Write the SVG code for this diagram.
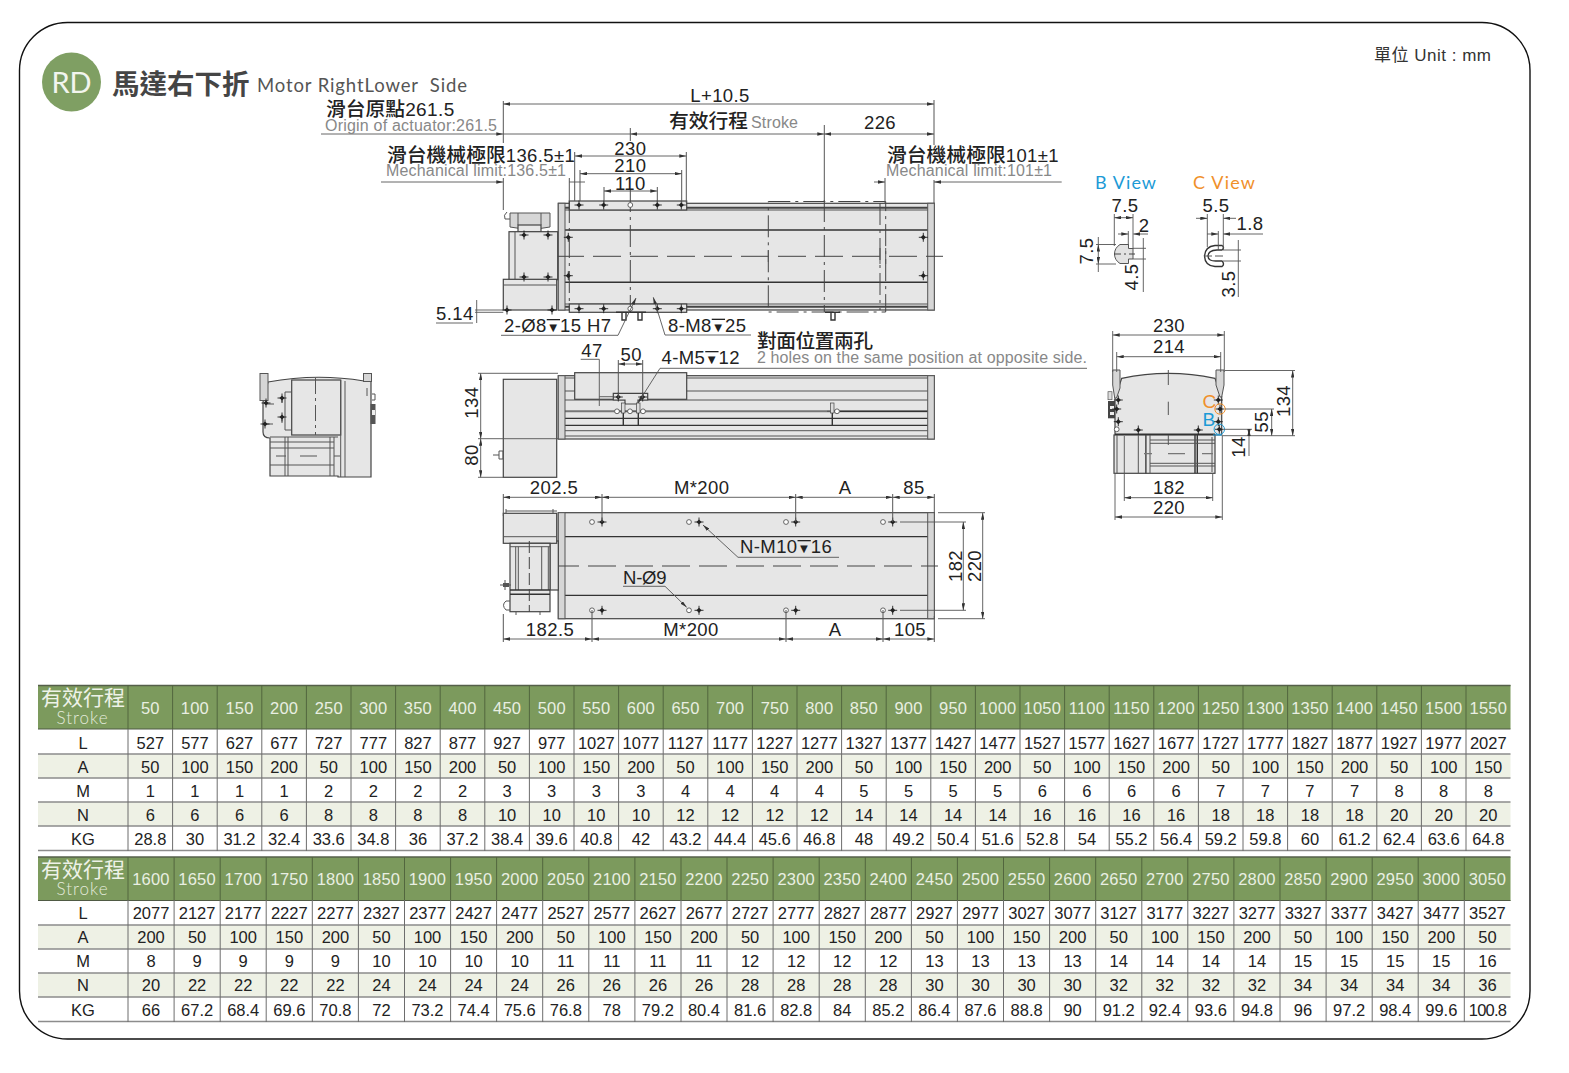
<svg xmlns="http://www.w3.org/2000/svg" width="1569" height="1073" viewBox="0 0 1569 1073">
<style>
text{font-family:"Liberation Sans","DejaVu Sans","Noto Sans CJK TC",sans-serif;fill:#222}
.d{font-size:18.5px;letter-spacing:.4px}
.m{text-anchor:middle}
.g{font-size:16px;fill:#888}
.cj{font-size:19.8px;fill:#222;font-weight:500}
.v{font-size:13px;text-decoration:overline}
.n{fill:none;stroke:#555;stroke-width:1}
.k{fill:none;stroke:#333;stroke-width:1.4}
.b{fill:#e6e6e6;stroke:#444;stroke-width:1.2}
.p{fill:#d6d6d6;stroke:#555;stroke-width:1}
.da{fill:none;stroke:#444;stroke-width:1;stroke-dasharray:22 5 3 5}
.cl{fill:none;stroke:#444;stroke-width:1;stroke-dasharray:28 9}
.dim{fill:none;stroke:#555;stroke-width:.9}
.ar{marker-start:url(#a);marker-end:url(#a)}
.ae{marker-end:url(#a)}
.td{font-size:16.5px;text-anchor:middle;fill:#222}
.hd{font-size:16.5px;text-anchor:middle;fill:#e9efe2;letter-spacing:.2px}
</style>
<defs>
<marker id="a" viewBox="0 0 8 4" refX="8" refY="2" markerWidth="7" markerHeight="3.5" markerUnits="userSpaceOnUse" orient="auto-start-reverse"><path d="M0 0L8 2L0 4z" fill="#333"/></marker>
<g id="h"><path d="M-4.5 0H4.5M0-4.5V4.5" stroke="#222" stroke-width=".9"/><path d="M-2.6 0L0-2.6L2.6 0L0 2.6z" fill="#222"/></g>
<circle id="o" r="2.4" fill="#fff" stroke="#444" stroke-width=".8"/>
</defs>
<rect width="1569" height="1073" fill="#fff"/>
<rect id="frame" x="19.500" y="22.500" width="1510.500" height="1016.500" rx="48" ry="48" fill="none" stroke="#111" stroke-width="1.400"/>

<g id="title">
<circle cx="71.500" cy="82" r="29.500" fill="#7f9f63"/>
<text x="71.500" y="93" class="m" font-size="29" style="font-family:'Lato','Noto Sans',sans-serif;fill:#f2f5ee">RD</text>
<text x="112" y="94" font-size="27.500" font-weight="700" style="fill:#454545">馬達右下折</text>
<text x="257" y="91.500" font-size="18.500" textLength="210" style="fill:#555;white-space:pre;font-family:'Lato','Liberation Sans',sans-serif">Motor RightLower  Side</text>
<text x="1374" y="61" font-size="17" textLength="117" style="fill:#333">單位 Unit : mm</text>
</g>

<g id="side-view-left">
<path class="b" d="M268 382Q316 373 364 381L371 381V477H338V476H270V438Q263 438 263 432V402L268 382z"/>
<rect class="p" x="260" y="373.500" width="8" height="27" fill="#ddd"/>
<rect class="p" x="363.500" y="373.500" width="8" height="8"/>
<rect class="b" x="291.700" y="380" width="49" height="55"/>
<path class="n" d="M291.700 392H285V430H291.700M340.700 380V477M345 381V477M270 437H338M270 442H334M270 448H334M270 465H334M288 437V476M285 437V476M334 437V476M330 437V476"/>
<path class="n" stroke-dasharray="16 4 3 4" d="M315.500 378V435"/>
<path class="n" d="M267 404H274M266 424H273M282 397V403M282 417V423M276 456H286M300 456H317M334 456H340M367 388V396M372 394H375V400H372"/>
<use href="#h" x="266" y="403"/><use href="#h" x="265" y="424"/><use href="#h" x="282" y="398"/><use href="#h" x="282" y="417"/>
<rect x="370.500" y="404" width="5" height="20" fill="#555"/><rect x="372" y="410" width="3" height="5" fill="#eee"/>
</g>

<g id="top-view">
<rect class="b" x="558.300" y="203.300" width="376" height="106.700"/>
<path d="M565 230H928M565 282.300H928" stroke="#333" stroke-width="1.600" fill="none"/>
<path d="M565 207.800H928M565 306.700H928" stroke="#444" stroke-width="2" fill="none"/>
<path class="n" d="M565 210H928M565 304H928"/>
<rect class="p" x="558.300" y="203.300" width="6.700" height="106.700" fill="#e2e2e2"/>
<rect class="p" x="927.700" y="203.300" width="6.600" height="106.700"/>
<rect class="b" x="569.300" y="201" width="117.400" height="9"/>
<rect class="b" x="569.300" y="304" width="117.400" height="8.300"/>
<rect class="da" x="768.300" y="201.500" width="117.400" height="110.500"/>
<path class="da" d="M569.300 201V310M630.300 190V312M880 203V310M824.300 200V312"/>
<path class="cl" d="M556 256.300H922M926 256.300H943"/>
<path class="n" d="M768.300 250V262M880 248V264M885.700 248V264"/>
<use href="#h" x="579" y="205"/><use href="#h" x="603.700" y="205"/><use href="#o" x="630.300" y="205"/><use href="#h" x="657.300" y="205"/><use href="#h" x="681.300" y="205"/>
<use href="#h" x="579" y="308.700"/><use href="#h" x="603.700" y="308.700"/><use href="#o" x="630.300" y="308.700"/><use href="#h" x="657.300" y="308.700"/><use href="#h" x="681.300" y="308.700"/>
<use href="#h" x="568.300" y="237.300"/><use href="#h" x="568.300" y="275.700"/><use href="#h" x="923.300" y="237.300"/><use href="#h" x="923.300" y="275.700"/>
<path class="p" d="M510 213H550V227Q530 231 510 227z" fill="#ddd"/>
<rect class="b" x="518" y="225" width="23" height="7"/>
<path class="n" d="M507 212Q503 215 505 219H510M518 213V225M541 213V225"/>
<rect class="b" x="509" y="231.700" width="48.700" height="48"/>
<path class="n" d="M515 231.700V279.700"/>
<rect class="b" x="503.300" y="279.300" width="53.400" height="30.700"/>
<path class="n" d="M503.300 285H556.700"/>
<use href="#h" x="524" y="235"/><use href="#h" x="548" y="235"/><use href="#h" x="524" y="277"/><use href="#h" x="548" y="277"/><use href="#h" x="507" y="310"/><use href="#h" x="552" y="310"/>
<path class="k" d="M616 312.300H646M622 312.300V320H626V312.300M638 312.300V320H642V312.300M825 312.300H840M831 312.300V320H835V312.300"/>
</g>

<g id="side-view">
<rect class="b" x="558.300" y="375.700" width="376" height="63.300"/>
<path class="n" d="M565 378H928M565 391H928M565 400H928M565 430.700H928M565 436H928"/>
<path d="M565 411.300H928" stroke="#777" stroke-width="2" fill="none"/>
<path d="M840 411.300H928M565 418.300H928M565 425.300H928" stroke="#333" stroke-width="1.200" fill="none"/>
<rect class="p" x="558.300" y="375.700" width="6.700" height="63.300" fill="#e2e2e2"/>
<rect class="p" x="927.700" y="375.700" width="6.600" height="63.300"/>
<rect class="b" x="574.700" y="372.700" width="112" height="26.600"/>
<path class="b" d="M613.300 393.300H647.700V400H638V404H625V400H613.300z"/>
<rect class="b" x="503.300" y="379.300" width="53.400" height="98"/>
<path class="n" d="M493 455H499M499 451H503V459H499z"/>
<path class="k" d="M623.300 403V425M638.300 403V425M832.300 403V425"/>
<path class="n" d="M616 411.300H645M827 411.300H838"/>
<use href="#o" x="617" y="411.300"/><use href="#o" x="630" y="411.300"/><use href="#o" x="643" y="411.300"/><use href="#o" x="837" y="411.300"/>
<rect x="621.500" y="403" width="3.500" height="10" fill="#ddd" stroke="#444" stroke-width=".7"/><rect x="636.500" y="403" width="3.500" height="10" fill="#ddd" stroke="#444" stroke-width=".7"/><rect x="830.500" y="403" width="3.500" height="10" fill="#ddd" stroke="#444" stroke-width=".7"/>
<use href="#h" x="618.300" y="397"/><use href="#h" x="642.700" y="397"/>
</g>

<g id="bottom-view">
<rect class="b" x="558.300" y="512.700" width="376" height="106"/>
<path d="M565 536.700H928M565 595.300H928" stroke="#333" stroke-width="1.300" fill="none"/>
<rect class="p" x="558.300" y="512.700" width="6.700" height="106" fill="#e2e2e2"/>
<rect class="p" x="927.700" y="512.700" width="6.600" height="106"/>
<path class="cl" d="M551 566H938"/>
<use href="#o" x="592" y="522"/><use href="#o" x="689" y="522"/><use href="#o" x="786" y="522"/><use href="#o" x="883" y="522"/>
<use href="#h" x="602" y="522"/><use href="#h" x="699" y="522"/><use href="#h" x="795.700" y="522"/><use href="#h" x="892.700" y="522"/>
<use href="#o" x="592" y="610.300"/><use href="#o" x="689" y="610.300"/><use href="#o" x="786" y="610.300"/><use href="#o" x="883" y="610.300"/>
<use href="#h" x="602" y="610.300"/><use href="#h" x="699" y="610.300"/><use href="#h" x="795.700" y="610.300"/><use href="#h" x="892.700" y="610.300"/>
<rect class="b" x="550" y="541" width="8.300" height="49"/>
<rect class="b" x="503.300" y="513.300" width="53.400" height="30"/>
<path class="n" d="M503.300 536.700H556.700M506 511H557M506 509V513M553 509V513"/>
<rect class="b" x="510" y="543.300" width="40" height="68.400"/>
<path class="n" d="M510 546.700H550M515.700 546.700V590M518.300 546.700V590M541.700 546.700V590M548.300 546.700V590M516 612V615M540 612V615"/>
<path class="k" d="M510 590H550M510 594.300H550"/>
<path class="da" d="M529.300 541V612" style="stroke-dasharray:12 4"/>
<path class="n" d="M500 585H511M505 580V590M510 601H506Q501 605 506 610H510"/>
<rect x="503" y="583" width="6" height="4" fill="#555"/>
</g>

<g id="right-view">
<path class="b" d="M1121.700 378.300Q1168.300 368.500 1215 378.300L1221.700 396.700V435H1115V398.300z"/>
<path class="p" d="M1112.700 370H1120V388L1116.500 398H1114.700L1112.700 385z" fill="#ddd"/>
<path class="p" d="M1216 370H1224V385L1221.700 397H1220L1216 385z" fill="#ddd"/>
<rect class="b" x="1114" y="435" width="32" height="38.300"/>
<rect class="b" x="1146" y="435" width="69" height="38.300"/>
<path class="k" d="M1195 435V473.300M1197.300 435V473.300M1115 434.300H1215"/>
<path class="n" d="M1117 435V473M1138.300 435V473M1150 435V473M1150 440H1215M1150 443.300H1215M1150 463.300H1215M1150 466H1215M1212 437V472"/>
<path class="n" d="M1168.300 370V385M1168.300 401.700V415M1168.300 435V445"/>
<path d="M1144 453.700H1152M1168 453.700H1185M1202 453.700H1213" stroke="#777" stroke-width="1.300" fill="none"/>
<rect x="1108" y="391.700" width="4" height="8" fill="#ddd" stroke="#555" stroke-width=".7"/>
<rect x="1108" y="401" width="7" height="17.300" fill="#444"/><rect x="1110" y="406" width="4" height="3" fill="#eee"/><rect x="1110" y="412" width="4" height="3" fill="#eee"/>
<use href="#h" x="1118.300" y="400"/><use href="#h" x="1116.700" y="409"/><use href="#h" x="1118.300" y="421.700"/><use href="#o" x="1116.700" y="429.300"/><use href="#h" x="1138.300" y="430"/><use href="#h" x="1198.300" y="430"/><use href="#h" x="1218.300" y="400"/><use href="#h" x="1220" y="409"/><use href="#h" x="1218.300" y="421.700"/><use href="#h" x="1219.300" y="429.300"/>
<circle cx="1220" cy="409" r="5.200" fill="none" stroke="#f0902a"/><circle cx="1219.300" cy="429.300" r="5.200" fill="none" stroke="#1c9ad6"/>
<path d="M1213 435H1222" fill="none" stroke="#1c9ad6"/>
<text x="1202.500" y="407.700" font-size="19" style="fill:#f0902a">C</text>
<text x="1202.500" y="425.700" font-size="19" style="fill:#1c9ad6">B</text>
</g>

<g id="b-view">
<text x="1095" y="189.300" font-size="18" textLength="61" style="fill:#1c9ad6;font-family:'Lato','Liberation Sans',sans-serif">B View</text>
<path d="M1120 244.500H1128.500V248.500H1133V259H1128.500V263.500H1120Q1114.500 260 1114.500 254Q1114.500 248 1120 244.500z" fill="#e2e2e2" stroke="#555" stroke-width="1"/>
<path class="cl" style="stroke-dasharray:7 3 2 3" d="M1114 254H1135"/>
</g>
<g id="c-view">
<text x="1193" y="189.300" font-size="18" textLength="62" style="fill:#f0902a;font-family:'Lato','Liberation Sans',sans-serif">C View</text>
<path class="k" fill="#fff" d="M1222 250Q1225 247.500 1222 245.500H1215Q1205 246.500 1204.500 256Q1205 266 1215 266.500H1222Q1225 264 1222 261H1217Q1208 261.500 1208 256Q1208 250.500 1217 250z"/>
<path class="n" stroke-dasharray="8 3" d="M1204 256H1226"/>
</g>

<g id="connectors">
<!-- top dimensions -->
<path class="n" d="M503.300 101V143M503.300 178V210M630.300 128V141M824.300 125V202M934 100V145M934 180V203M569.300 178V201M574.700 152V201M580 170V201M604 187V203M657.300 187V203M681.700 170V203M686.300 152V203M885 178V203"/>
<path class="dim ar" d="M503.300 104H934"/>
<path class="dim ae" d="M321 134H503.300"/>
<path class="dim" d="M503.300 134H630.300"/>
<path class="dim ar" d="M630.300 134H824.300"/>
<path class="dim ar" d="M824.300 134H934"/>
<path class="dim ae" d="M381 182H503.300"/>
<path class="dim" d="M569.300 182H585"/>
<path class="dim ar" d="M575 156H686.300"/>
<path class="dim ar" d="M580 173.700H681.700"/>
<path class="dim ar" d="M604 191H657.300"/>
<path class="dim ae" d="M874 182H885"/>
<path class="dim ae" d="M1061.700 182H934"/>
<!-- leaders -->
<path class="dim" d="M436 323H473M476.700 300V323M475 310H503.300M475 312.300H503.300"/>
<path class="dim ae" d="M501 335.300H618L636 298"/>
<path class="dim ae" d="M751 335H665L653.300 297.300"/>
<path class="dim ae" d="M1087 368.300H660L638 403"/>
<path class="dim" d="M580.700 359.300H599.300V406M599.300 396.700H613"/>
<path class="dim ar" d="M618.300 364H642.700"/>
<path class="n" d="M618.300 360V398M642.700 360V398"/>
<!-- side dimensions -->
<path class="dim" d="M478 373.300H558M478 438.700H558M478 477.300H503.300"/>
<path class="dim ar" d="M480.700 373.300V438.700"/>
<path class="dim ar" d="M480.700 438.700V477.300"/>
<!-- bottom dimensions -->
<path class="n" d="M503.300 494V516M602 494V522M795.700 494V522M892.700 494V522M934.300 494V513M503.300 614V642M592 610V642M786 610V642M883 610V642M934.300 616V642"/>
<path class="dim ar" d="M503.300 497.300H602"/>
<path class="dim ar" d="M602 497.300H795.700"/>
<path class="dim ar" d="M795.700 497.300H892.700"/>
<path class="dim ar" d="M892.700 497.300H934.300"/>
<path class="dim ar" d="M503.300 639H592"/>
<path class="dim ar" d="M592 639H786"/>
<path class="dim ar" d="M786 639H883"/>
<path class="dim ar" d="M883 639H934.300"/>
<path class="dim" d="M900 522H966M900 610.300H966M938 512.700H985M938 618.700H985"/>
<path class="dim ar" d="M963.300 522V610.300"/>
<path class="dim ar" d="M982.700 512.700V618.700"/>
<path class="dim ae" d="M839 557.300H738L703 525"/>
<path class="dim ae" d="M623 586.300H665L686.700 607.300"/>
<!-- right view dimensions -->
<path class="dim" d="M1112.700 331V372M1224.300 331V372M1116.700 352V372M1220.700 352V372M1124.300 436V501M1212.700 474V501M1115 474V520M1222.300 436V520M1225 370.500H1295M1225 409H1274M1224 429.300H1252M1222 435.700H1295M1249 429V456"/>
<path class="dim ar" d="M1112.700 335H1224.300"/>
<path class="dim ar" d="M1116.700 356.700H1220.700"/>
<path class="dim ar" d="M1124.300 497.700H1212.700"/>
<path class="dim ar" d="M1115 517H1222.300"/>
<path class="dim ar" d="M1292.700 370.500V435.700"/>
<path class="dim ar" d="M1271.700 409V435.700"/>
<path class="dim ar" d="M1249 429.300V435.700"/>
<!-- B view dimensions -->
<path class="dim" d="M1114.300 214V246M1133 214V249M1128.300 231V245M1096 244.500H1116M1096 264H1116M1133 248.300H1146M1133 259H1146M1143.300 238V292"/>
<path class="dim ar" d="M1114.300 217.700H1133"/>
<path class="dim ae" d="M1118 234H1128.300"/>
<path class="dim ae" d="M1148 234H1133.300"/>
<path class="dim ar" d="M1098.300 244.500V264"/>
<path class="dim" d="M1098.300 237V244.500M1098.300 264V272"/>
<!-- C view dimensions -->
<path class="dim" d="M1207.300 214V247M1223.300 214V250M1218.300 231V250M1223 250H1241M1223 261H1241M1238.300 240V297"/>
<path class="dim ae" d="M1196 218.300H1207.300"/>
<path class="dim ae" d="M1236 218.300H1223.300"/>
<path class="dim ae" d="M1207 234H1218.300"/>
<path class="dim ae" d="M1263 234H1223.300"/>
</g>

<g id="labels">
<text x="326" y="116" class="cj">滑台原點<tspan class="d" style="font-size:19px;font-weight:400">261.5</tspan></text>
<text x="325" y="131" class="g" textLength="172">Origin of actuator:261.5</text>
<text x="387" y="162" class="cj">滑台機械極限<tspan class="d" style="font-size:18.500px;font-weight:400">136.5±1</tspan></text>
<text x="386" y="176" class="g" textLength="180">Mechanical limit:136.5±1</text>
<text x="887" y="162" class="cj">滑台機械極限<tspan class="d" style="font-size:18.500px;font-weight:400">101±1</tspan></text>
<text x="886" y="176" class="g" textLength="166">Mechanical limit:101±1</text>
<text x="720" y="101.500" class="d m">L+10.5</text>
<text x="669" y="128" class="cj">有效行程</text>
<text x="751" y="128" class="g" textLength="47">Stroke</text>
<text x="880" y="129" class="d m">226</text>
<text x="630.300" y="155" class="d m">230</text>
<text x="630.300" y="172" class="d m">210</text>
<text x="630.300" y="190" class="d m">110</text>
<text x="436" y="320" class="d">5.14</text>
<text x="504" y="332" class="d">2-Ø8<tspan class="v">▼</tspan>15 H7</text>
<text x="668" y="331.700" class="d">8-M8<tspan class="v">▼</tspan>25</text>
<text x="757" y="348.300" class="cj" textLength="116">對面位置兩孔</text>
<text x="757" y="363" class="g" textLength="330">2 holes on the same position at opposite side.</text>
<text x="661.500" y="364" class="d">4-M5<tspan class="v">▼</tspan>12</text>
<text x="592" y="356.700" class="d m">47</text>
<text x="631.300" y="360.700" class="d m">50</text>
<text transform="translate(478 402.700) rotate(-90)" class="d m">134</text>
<text transform="translate(478 455) rotate(-90)" class="d m">80</text>
<text x="554" y="494" class="d m">202.5</text>
<text x="701.700" y="494" class="d m">M*200</text>
<text x="845" y="494" class="d m">A</text>
<text x="914" y="494" class="d m">85</text>
<text x="550" y="636" class="d m">182.5</text>
<text x="691" y="636" class="d m">M*200</text>
<text x="835" y="636" class="d m">A</text>
<text x="910" y="636" class="d m">105</text>
<text x="740" y="553" class="d">N-M10<tspan class="v">▼</tspan>16</text>
<text x="623" y="584" class="d" style="letter-spacing:-.2px">N-Ø9</text>
<text transform="translate(961.500 566) rotate(-90)" class="d m">182</text>
<text transform="translate(980.500 566) rotate(-90)" class="d m">220</text>
<text x="1169" y="332" class="d m">230</text>
<text x="1169" y="353" class="d m">214</text>
<text x="1169" y="494" class="d m">182</text>
<text x="1169" y="513.500" class="d m">220</text>
<text transform="translate(1290 401) rotate(-90)" class="d m">134</text>
<text transform="translate(1268 421.700) rotate(-90)" class="d m">55</text>
<text transform="translate(1245 447) rotate(-90)" class="d m">14</text>
<text x="1125" y="211.700" class="d m">7.5</text>
<text x="1144" y="231.700" class="d m">2</text>
<text transform="translate(1093 251) rotate(-90)" class="d m">7.5</text>
<text transform="translate(1138 277) rotate(-90)" class="d m">4.5</text>
<text x="1216" y="212.300" class="d m">5.5</text>
<text x="1250" y="230" class="d m">1.8</text>
<text transform="translate(1235 284) rotate(-90)" class="d m">3.5</text>
</g>

<g id="table-1">
<rect x="38" y="685" width="1472.500" height="44" fill="#7c9a5d"/>
<rect x="38" y="754" width="1472.500" height="24" fill="#eef1e5"/>
<rect x="38" y="802" width="1472.500" height="24" fill="#eef1e5"/>
<path d="M38 685.500H1510.500" stroke="#555f4a" stroke-width="1.500"/>
<path d="M38 729H1510.500" stroke="#4f5a44" stroke-width="1.200"/>
<path d="M38 754H1510.500M38 778H1510.500M38 802H1510.500M38 826H1510.500M38 850.500H1510.500" stroke="#8c8c8c" stroke-width="1.500" fill="none"/>
<path d="M128 685V729M172.600 685V729M217.200 685V729M261.800 685V729M306.400 685V729M351 685V729M395.600 685V729M440.200 685V729M484.800 685V729M529.400 685V729M574 685V729M618.600 685V729M663.200 685V729M707.800 685V729M752.400 685V729M797 685V729M841.600 685V729M886.200 685V729M930.800 685V729M975.400 685V729M1020 685V729M1064.600 685V729M1109.200 685V729M1153.800 685V729M1198.400 685V729M1243 685V729M1287.600 685V729M1332.200 685V729M1376.800 685V729M1421.400 685V729M1466 685V729" stroke="#52663e" stroke-width="1" fill="none"/>
<path d="M128 729V851M172.600 729V851M217.200 729V851M261.800 729V851M306.400 729V851M351 729V851M395.600 729V851M440.200 729V851M484.800 729V851M529.400 729V851M574 729V851M618.600 729V851M663.200 729V851M707.800 729V851M752.400 729V851M797 729V851M841.600 729V851M886.200 729V851M930.800 729V851M975.400 729V851M1020 729V851M1064.600 729V851M1109.200 729V851M1153.800 729V851M1198.400 729V851M1243 729V851M1287.600 729V851M1332.200 729V851M1376.800 729V851M1421.400 729V851M1466 729V851" stroke="#6d6d6d" stroke-width="1" fill="none"/>
<text x="83" y="705" font-size="21" text-anchor="middle" style="fill:#eef2e8">有效行程</text>
<text x="82" y="724" font-size="17" text-anchor="middle" style="fill:#e4ebdc;font-family:'Lato','Noto Sans',sans-serif;font-weight:300" textLength="51">Stroke</text>
<text x="150.300" y="714" class="hd">50</text><text x="194.900" y="714" class="hd">100</text><text x="239.500" y="714" class="hd">150</text><text x="284.100" y="714" class="hd">200</text><text x="328.700" y="714" class="hd">250</text><text x="373.300" y="714" class="hd">300</text><text x="417.900" y="714" class="hd">350</text><text x="462.500" y="714" class="hd">400</text><text x="507.100" y="714" class="hd">450</text><text x="551.700" y="714" class="hd">500</text><text x="596.300" y="714" class="hd">550</text><text x="640.900" y="714" class="hd">600</text><text x="685.500" y="714" class="hd">650</text><text x="730.100" y="714" class="hd">700</text><text x="774.700" y="714" class="hd">750</text><text x="819.300" y="714" class="hd">800</text><text x="863.900" y="714" class="hd">850</text><text x="908.500" y="714" class="hd">900</text><text x="953.100" y="714" class="hd">950</text><text x="997.700" y="714" class="hd">1000</text><text x="1042.300" y="714" class="hd">1050</text><text x="1086.900" y="714" class="hd">1100</text><text x="1131.500" y="714" class="hd">1150</text><text x="1176.100" y="714" class="hd">1200</text><text x="1220.700" y="714" class="hd">1250</text><text x="1265.300" y="714" class="hd">1300</text><text x="1309.900" y="714" class="hd">1350</text><text x="1354.500" y="714" class="hd">1400</text><text x="1399.100" y="714" class="hd">1450</text><text x="1443.700" y="714" class="hd">1500</text><text x="1488.300" y="714" class="hd">1550</text>
<text x="83" y="748.500" class="td">L</text><text x="150.300" y="748.500" class="td">527</text><text x="194.900" y="748.500" class="td">577</text><text x="239.500" y="748.500" class="td">627</text><text x="284.100" y="748.500" class="td">677</text><text x="328.700" y="748.500" class="td">727</text><text x="373.300" y="748.500" class="td">777</text><text x="417.900" y="748.500" class="td">827</text><text x="462.500" y="748.500" class="td">877</text><text x="507.100" y="748.500" class="td">927</text><text x="551.700" y="748.500" class="td">977</text><text x="596.300" y="748.500" class="td">1027</text><text x="640.900" y="748.500" class="td">1077</text><text x="685.500" y="748.500" class="td">1127</text><text x="730.100" y="748.500" class="td">1177</text><text x="774.700" y="748.500" class="td">1227</text><text x="819.300" y="748.500" class="td">1277</text><text x="863.900" y="748.500" class="td">1327</text><text x="908.500" y="748.500" class="td">1377</text><text x="953.100" y="748.500" class="td">1427</text><text x="997.700" y="748.500" class="td">1477</text><text x="1042.300" y="748.500" class="td">1527</text><text x="1086.900" y="748.500" class="td">1577</text><text x="1131.500" y="748.500" class="td">1627</text><text x="1176.100" y="748.500" class="td">1677</text><text x="1220.700" y="748.500" class="td">1727</text><text x="1265.300" y="748.500" class="td">1777</text><text x="1309.900" y="748.500" class="td">1827</text><text x="1354.500" y="748.500" class="td">1877</text><text x="1399.100" y="748.500" class="td">1927</text><text x="1443.700" y="748.500" class="td">1977</text><text x="1488.300" y="748.500" class="td">2027</text>
<text x="83" y="772.500" class="td">A</text><text x="150.300" y="772.500" class="td">50</text><text x="194.900" y="772.500" class="td">100</text><text x="239.500" y="772.500" class="td">150</text><text x="284.100" y="772.500" class="td">200</text><text x="328.700" y="772.500" class="td">50</text><text x="373.300" y="772.500" class="td">100</text><text x="417.900" y="772.500" class="td">150</text><text x="462.500" y="772.500" class="td">200</text><text x="507.100" y="772.500" class="td">50</text><text x="551.700" y="772.500" class="td">100</text><text x="596.300" y="772.500" class="td">150</text><text x="640.900" y="772.500" class="td">200</text><text x="685.500" y="772.500" class="td">50</text><text x="730.100" y="772.500" class="td">100</text><text x="774.700" y="772.500" class="td">150</text><text x="819.300" y="772.500" class="td">200</text><text x="863.900" y="772.500" class="td">50</text><text x="908.500" y="772.500" class="td">100</text><text x="953.100" y="772.500" class="td">150</text><text x="997.700" y="772.500" class="td">200</text><text x="1042.300" y="772.500" class="td">50</text><text x="1086.900" y="772.500" class="td">100</text><text x="1131.500" y="772.500" class="td">150</text><text x="1176.100" y="772.500" class="td">200</text><text x="1220.700" y="772.500" class="td">50</text><text x="1265.300" y="772.500" class="td">100</text><text x="1309.900" y="772.500" class="td">150</text><text x="1354.500" y="772.500" class="td">200</text><text x="1399.100" y="772.500" class="td">50</text><text x="1443.700" y="772.500" class="td">100</text><text x="1488.300" y="772.500" class="td">150</text>
<text x="83" y="796.500" class="td">M</text><text x="150.300" y="796.500" class="td">1</text><text x="194.900" y="796.500" class="td">1</text><text x="239.500" y="796.500" class="td">1</text><text x="284.100" y="796.500" class="td">1</text><text x="328.700" y="796.500" class="td">2</text><text x="373.300" y="796.500" class="td">2</text><text x="417.900" y="796.500" class="td">2</text><text x="462.500" y="796.500" class="td">2</text><text x="507.100" y="796.500" class="td">3</text><text x="551.700" y="796.500" class="td">3</text><text x="596.300" y="796.500" class="td">3</text><text x="640.900" y="796.500" class="td">3</text><text x="685.500" y="796.500" class="td">4</text><text x="730.100" y="796.500" class="td">4</text><text x="774.700" y="796.500" class="td">4</text><text x="819.300" y="796.500" class="td">4</text><text x="863.900" y="796.500" class="td">5</text><text x="908.500" y="796.500" class="td">5</text><text x="953.100" y="796.500" class="td">5</text><text x="997.700" y="796.500" class="td">5</text><text x="1042.300" y="796.500" class="td">6</text><text x="1086.900" y="796.500" class="td">6</text><text x="1131.500" y="796.500" class="td">6</text><text x="1176.100" y="796.500" class="td">6</text><text x="1220.700" y="796.500" class="td">7</text><text x="1265.300" y="796.500" class="td">7</text><text x="1309.900" y="796.500" class="td">7</text><text x="1354.500" y="796.500" class="td">7</text><text x="1399.100" y="796.500" class="td">8</text><text x="1443.700" y="796.500" class="td">8</text><text x="1488.300" y="796.500" class="td">8</text>
<text x="83" y="820.500" class="td">N</text><text x="150.300" y="820.500" class="td">6</text><text x="194.900" y="820.500" class="td">6</text><text x="239.500" y="820.500" class="td">6</text><text x="284.100" y="820.500" class="td">6</text><text x="328.700" y="820.500" class="td">8</text><text x="373.300" y="820.500" class="td">8</text><text x="417.900" y="820.500" class="td">8</text><text x="462.500" y="820.500" class="td">8</text><text x="507.100" y="820.500" class="td">10</text><text x="551.700" y="820.500" class="td">10</text><text x="596.300" y="820.500" class="td">10</text><text x="640.900" y="820.500" class="td">10</text><text x="685.500" y="820.500" class="td">12</text><text x="730.100" y="820.500" class="td">12</text><text x="774.700" y="820.500" class="td">12</text><text x="819.300" y="820.500" class="td">12</text><text x="863.900" y="820.500" class="td">14</text><text x="908.500" y="820.500" class="td">14</text><text x="953.100" y="820.500" class="td">14</text><text x="997.700" y="820.500" class="td">14</text><text x="1042.300" y="820.500" class="td">16</text><text x="1086.900" y="820.500" class="td">16</text><text x="1131.500" y="820.500" class="td">16</text><text x="1176.100" y="820.500" class="td">16</text><text x="1220.700" y="820.500" class="td">18</text><text x="1265.300" y="820.500" class="td">18</text><text x="1309.900" y="820.500" class="td">18</text><text x="1354.500" y="820.500" class="td">18</text><text x="1399.100" y="820.500" class="td">20</text><text x="1443.700" y="820.500" class="td">20</text><text x="1488.300" y="820.500" class="td">20</text>
<text x="83" y="845" class="td">KG</text><text x="150.300" y="845" class="td">28.8</text><text x="194.900" y="845" class="td">30</text><text x="239.500" y="845" class="td">31.2</text><text x="284.100" y="845" class="td">32.4</text><text x="328.700" y="845" class="td">33.6</text><text x="373.300" y="845" class="td">34.8</text><text x="417.900" y="845" class="td">36</text><text x="462.500" y="845" class="td">37.2</text><text x="507.100" y="845" class="td">38.4</text><text x="551.700" y="845" class="td">39.6</text><text x="596.300" y="845" class="td">40.8</text><text x="640.900" y="845" class="td">42</text><text x="685.500" y="845" class="td">43.2</text><text x="730.100" y="845" class="td">44.4</text><text x="774.700" y="845" class="td">45.6</text><text x="819.300" y="845" class="td">46.8</text><text x="863.900" y="845" class="td">48</text><text x="908.500" y="845" class="td">49.2</text><text x="953.100" y="845" class="td">50.4</text><text x="997.700" y="845" class="td">51.6</text><text x="1042.300" y="845" class="td">52.8</text><text x="1086.900" y="845" class="td">54</text><text x="1131.500" y="845" class="td">55.2</text><text x="1176.100" y="845" class="td">56.4</text><text x="1220.700" y="845" class="td">59.2</text><text x="1265.300" y="845" class="td">59.8</text><text x="1309.900" y="845" class="td">60</text><text x="1354.500" y="845" class="td">61.2</text><text x="1399.100" y="845" class="td">62.4</text><text x="1443.700" y="845" class="td">63.6</text><text x="1488.300" y="845" class="td">64.8</text>
</g>

<g id="table-2">
<rect x="38" y="857" width="1472.500" height="44" fill="#7c9a5d"/>
<rect x="38" y="925" width="1472.500" height="24" fill="#eef1e5"/>
<rect x="38" y="973" width="1472.500" height="24" fill="#eef1e5"/>
<path d="M38 857H1510.500" stroke="#555f4a" stroke-width="1.500"/>
<path d="M38 900.500H1510.500" stroke="#4f5a44" stroke-width="1.200"/>
<path d="M38 925H1510.500M38 949H1510.500M38 973H1510.500M38 997H1510.500M38 1021.500H1510.500" stroke="#8c8c8c" stroke-width="1.500" fill="none"/>
<path d="M128 857V900M174.100 857V900M220.200 857V900M266.200 857V900M312.300 857V900M358.400 857V900M404.500 857V900M450.600 857V900M496.600 857V900M542.700 857V900M588.800 857V900M634.900 857V900M681 857V900M727 857V900M773.100 857V900M819.200 857V900M865.300 857V900M911.400 857V900M957.400 857V900M1003.500 857V900M1049.600 857V900M1095.700 857V900M1141.800 857V900M1187.800 857V900M1233.900 857V900M1280 857V900M1326.100 857V900M1372.200 857V900M1418.200 857V900M1464.300 857V900" stroke="#52663e" stroke-width="1" fill="none"/>
<path d="M128 900V1022M174.100 900V1022M220.200 900V1022M266.200 900V1022M312.300 900V1022M358.400 900V1022M404.500 900V1022M450.600 900V1022M496.600 900V1022M542.700 900V1022M588.800 900V1022M634.900 900V1022M681 900V1022M727 900V1022M773.100 900V1022M819.200 900V1022M865.300 900V1022M911.400 900V1022M957.400 900V1022M1003.500 900V1022M1049.600 900V1022M1095.700 900V1022M1141.800 900V1022M1187.800 900V1022M1233.900 900V1022M1280 900V1022M1326.100 900V1022M1372.200 900V1022M1418.200 900V1022M1464.300 900V1022" stroke="#6d6d6d" stroke-width="1" fill="none"/>
<text x="83" y="876.500" font-size="21" text-anchor="middle" style="fill:#eef2e8">有效行程</text>
<text x="82" y="895" font-size="17" text-anchor="middle" style="fill:#e4ebdc;font-family:'Lato','Noto Sans',sans-serif;font-weight:300" textLength="51">Stroke</text>
<text x="151" y="884.500" class="hd">1600</text><text x="197.100" y="884.500" class="hd">1650</text><text x="243.200" y="884.500" class="hd">1700</text><text x="289.300" y="884.500" class="hd">1750</text><text x="335.400" y="884.500" class="hd">1800</text><text x="381.400" y="884.500" class="hd">1850</text><text x="427.500" y="884.500" class="hd">1900</text><text x="473.600" y="884.500" class="hd">1950</text><text x="519.700" y="884.500" class="hd">2000</text><text x="565.800" y="884.500" class="hd">2050</text><text x="611.800" y="884.500" class="hd">2100</text><text x="657.900" y="884.500" class="hd">2150</text><text x="704" y="884.500" class="hd">2200</text><text x="750.100" y="884.500" class="hd">2250</text><text x="796.200" y="884.500" class="hd">2300</text><text x="842.200" y="884.500" class="hd">2350</text><text x="888.300" y="884.500" class="hd">2400</text><text x="934.400" y="884.500" class="hd">2450</text><text x="980.500" y="884.500" class="hd">2500</text><text x="1026.600" y="884.500" class="hd">2550</text><text x="1072.600" y="884.500" class="hd">2600</text><text x="1118.700" y="884.500" class="hd">2650</text><text x="1164.800" y="884.500" class="hd">2700</text><text x="1210.900" y="884.500" class="hd">2750</text><text x="1257" y="884.500" class="hd">2800</text><text x="1303" y="884.500" class="hd">2850</text><text x="1349.100" y="884.500" class="hd">2900</text><text x="1395.200" y="884.500" class="hd">2950</text><text x="1441.300" y="884.500" class="hd">3000</text><text x="1487.400" y="884.500" class="hd">3050</text>
<text x="83" y="919" class="td">L</text><text x="151" y="919" class="td">2077</text><text x="197.100" y="919" class="td">2127</text><text x="243.200" y="919" class="td">2177</text><text x="289.300" y="919" class="td">2227</text><text x="335.400" y="919" class="td">2277</text><text x="381.400" y="919" class="td">2327</text><text x="427.500" y="919" class="td">2377</text><text x="473.600" y="919" class="td">2427</text><text x="519.700" y="919" class="td">2477</text><text x="565.800" y="919" class="td">2527</text><text x="611.800" y="919" class="td">2577</text><text x="657.900" y="919" class="td">2627</text><text x="704" y="919" class="td">2677</text><text x="750.100" y="919" class="td">2727</text><text x="796.200" y="919" class="td">2777</text><text x="842.200" y="919" class="td">2827</text><text x="888.300" y="919" class="td">2877</text><text x="934.400" y="919" class="td">2927</text><text x="980.500" y="919" class="td">2977</text><text x="1026.600" y="919" class="td">3027</text><text x="1072.600" y="919" class="td">3077</text><text x="1118.700" y="919" class="td">3127</text><text x="1164.800" y="919" class="td">3177</text><text x="1210.900" y="919" class="td">3227</text><text x="1257" y="919" class="td">3277</text><text x="1303" y="919" class="td">3327</text><text x="1349.100" y="919" class="td">3377</text><text x="1395.200" y="919" class="td">3427</text><text x="1441.300" y="919" class="td">3477</text><text x="1487.400" y="919" class="td">3527</text>
<text x="83" y="943" class="td">A</text><text x="151" y="943" class="td">200</text><text x="197.100" y="943" class="td">50</text><text x="243.200" y="943" class="td">100</text><text x="289.300" y="943" class="td">150</text><text x="335.400" y="943" class="td">200</text><text x="381.400" y="943" class="td">50</text><text x="427.500" y="943" class="td">100</text><text x="473.600" y="943" class="td">150</text><text x="519.700" y="943" class="td">200</text><text x="565.800" y="943" class="td">50</text><text x="611.800" y="943" class="td">100</text><text x="657.900" y="943" class="td">150</text><text x="704" y="943" class="td">200</text><text x="750.100" y="943" class="td">50</text><text x="796.200" y="943" class="td">100</text><text x="842.200" y="943" class="td">150</text><text x="888.300" y="943" class="td">200</text><text x="934.400" y="943" class="td">50</text><text x="980.500" y="943" class="td">100</text><text x="1026.600" y="943" class="td">150</text><text x="1072.600" y="943" class="td">200</text><text x="1118.700" y="943" class="td">50</text><text x="1164.800" y="943" class="td">100</text><text x="1210.900" y="943" class="td">150</text><text x="1257" y="943" class="td">200</text><text x="1303" y="943" class="td">50</text><text x="1349.100" y="943" class="td">100</text><text x="1395.200" y="943" class="td">150</text><text x="1441.300" y="943" class="td">200</text><text x="1487.400" y="943" class="td">50</text>
<text x="83" y="967" class="td">M</text><text x="151" y="967" class="td">8</text><text x="197.100" y="967" class="td">9</text><text x="243.200" y="967" class="td">9</text><text x="289.300" y="967" class="td">9</text><text x="335.400" y="967" class="td">9</text><text x="381.400" y="967" class="td">10</text><text x="427.500" y="967" class="td">10</text><text x="473.600" y="967" class="td">10</text><text x="519.700" y="967" class="td">10</text><text x="565.800" y="967" class="td">11</text><text x="611.800" y="967" class="td">11</text><text x="657.900" y="967" class="td">11</text><text x="704" y="967" class="td">11</text><text x="750.100" y="967" class="td">12</text><text x="796.200" y="967" class="td">12</text><text x="842.200" y="967" class="td">12</text><text x="888.300" y="967" class="td">12</text><text x="934.400" y="967" class="td">13</text><text x="980.500" y="967" class="td">13</text><text x="1026.600" y="967" class="td">13</text><text x="1072.600" y="967" class="td">13</text><text x="1118.700" y="967" class="td">14</text><text x="1164.800" y="967" class="td">14</text><text x="1210.900" y="967" class="td">14</text><text x="1257" y="967" class="td">14</text><text x="1303" y="967" class="td">15</text><text x="1349.100" y="967" class="td">15</text><text x="1395.200" y="967" class="td">15</text><text x="1441.300" y="967" class="td">15</text><text x="1487.400" y="967" class="td">16</text>
<text x="83" y="991" class="td">N</text><text x="151" y="991" class="td">20</text><text x="197.100" y="991" class="td">22</text><text x="243.200" y="991" class="td">22</text><text x="289.300" y="991" class="td">22</text><text x="335.400" y="991" class="td">22</text><text x="381.400" y="991" class="td">24</text><text x="427.500" y="991" class="td">24</text><text x="473.600" y="991" class="td">24</text><text x="519.700" y="991" class="td">24</text><text x="565.800" y="991" class="td">26</text><text x="611.800" y="991" class="td">26</text><text x="657.900" y="991" class="td">26</text><text x="704" y="991" class="td">26</text><text x="750.100" y="991" class="td">28</text><text x="796.200" y="991" class="td">28</text><text x="842.200" y="991" class="td">28</text><text x="888.300" y="991" class="td">28</text><text x="934.400" y="991" class="td">30</text><text x="980.500" y="991" class="td">30</text><text x="1026.600" y="991" class="td">30</text><text x="1072.600" y="991" class="td">30</text><text x="1118.700" y="991" class="td">32</text><text x="1164.800" y="991" class="td">32</text><text x="1210.900" y="991" class="td">32</text><text x="1257" y="991" class="td">32</text><text x="1303" y="991" class="td">34</text><text x="1349.100" y="991" class="td">34</text><text x="1395.200" y="991" class="td">34</text><text x="1441.300" y="991" class="td">34</text><text x="1487.400" y="991" class="td">36</text>
<text x="83" y="1016" class="td">KG</text><text x="151" y="1016" class="td">66</text><text x="197.100" y="1016" class="td">67.2</text><text x="243.200" y="1016" class="td">68.4</text><text x="289.300" y="1016" class="td">69.6</text><text x="335.400" y="1016" class="td">70.8</text><text x="381.400" y="1016" class="td">72</text><text x="427.500" y="1016" class="td">73.2</text><text x="473.600" y="1016" class="td">74.4</text><text x="519.700" y="1016" class="td">75.6</text><text x="565.800" y="1016" class="td">76.8</text><text x="611.800" y="1016" class="td">78</text><text x="657.900" y="1016" class="td">79.2</text><text x="704" y="1016" class="td">80.4</text><text x="750.100" y="1016" class="td">81.6</text><text x="796.200" y="1016" class="td">82.8</text><text x="842.200" y="1016" class="td">84</text><text x="888.300" y="1016" class="td">85.2</text><text x="934.400" y="1016" class="td">86.4</text><text x="980.500" y="1016" class="td">87.6</text><text x="1026.600" y="1016" class="td">88.8</text><text x="1072.600" y="1016" class="td">90</text><text x="1118.700" y="1016" class="td">91.2</text><text x="1164.800" y="1016" class="td">92.4</text><text x="1210.900" y="1016" class="td">93.6</text><text x="1257" y="1016" class="td">94.8</text><text x="1303" y="1016" class="td">96</text><text x="1349.100" y="1016" class="td">97.2</text><text x="1395.200" y="1016" class="td">98.4</text><text x="1441.300" y="1016" class="td">99.6</text><text x="1487.400" y="1016" class="td" style="letter-spacing:-.8px">100.8</text>
</g>
</svg>
